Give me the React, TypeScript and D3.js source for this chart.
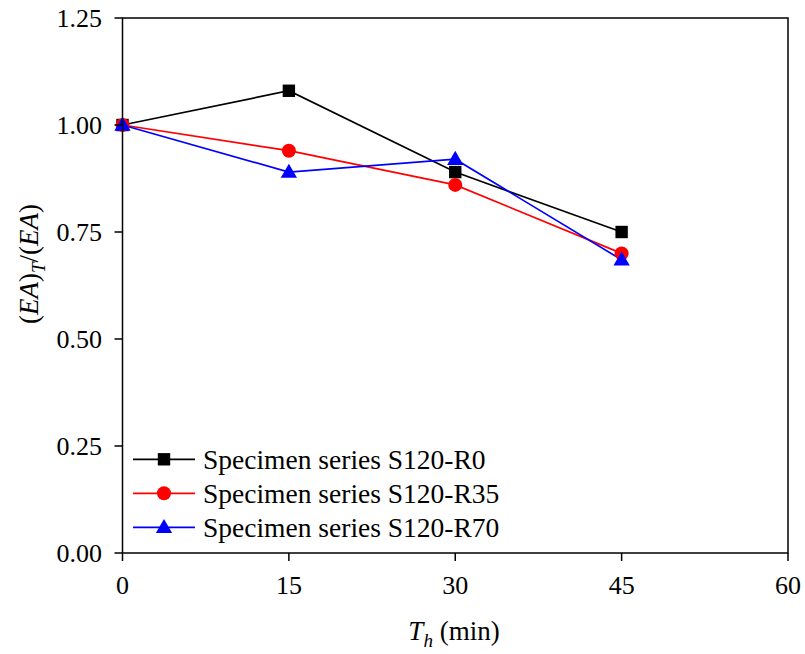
import React from "react";
import * as d3 from "d3";

const times = [0, 15, 30, 45];
const seriesNames = ["Specimen series S120-R0", "Specimen series S120-R35", "Specimen series S120-R70"];
const valuesR0 = [1.0, 1.08, 0.89, 0.75];
const valuesR35 = [1.0, 0.94, 0.86, 0.7];
const valuesR70 = [1.0, 0.89, 0.92, 0.685];
const xTicks = [0, 15, 30, 45, 60];
const yTicks = [0, 0.25, 0.5, 0.75, 1.0, 1.25];

const colors = ["#000000", "#ff0000", "#0000ff"];
const shapes = ["square", "circle", "triangle"];

const W = 805;
const H = 654;
const left = 122.5;
const right = 788;
const top = 18;
const bottom = 553;
const tickFs = 26;
const labelFs = 27;
const legendFs = 27.5;
const txt: React.CSSProperties = { fontFamily: '"Liberation Serif", monospace' };

function Marker({ shape, x, y, color }: { shape: string; x: number; y: number; color: string }) {
  if (shape === "square") return <rect x={x - 6.2} y={y - 6.2} width={12.4} height={12.4} fill={color} />;
  if (shape === "circle") return <circle cx={x} cy={y} r={7} fill={color} />;
  const p = d3.symbol(d3.symbolTriangle, 115)();
  return <path d={p || ""} transform={`translate(${x},${y + 1})`} fill={color} />;
}

export default function App() {
  const x = d3.scaleLinear().domain([0, 60]).range([left, right]);
  const y = d3.scaleLinear().domain([0, 1.25]).range([bottom, top]);
  const all = [valuesR0, valuesR35, valuesR70];
  const line = d3
    .line<number>()
    .x((_, i) => x(times[i]))
    .y((d) => y(d));

  return (
    <svg width={W} height={H} style={{ position: "absolute", left: 0, top: 0 }}>
      <rect width={W} height={H} fill="#fff" />
      {all.map((vals, s) => (
        <path key={s} d={line(vals) || ""} fill="none" stroke={colors[s]} strokeWidth={1.7} />
      ))}
      {all.map((vals, s) =>
        vals.map((v, i) => <Marker key={`${s}-${i}`} shape={shapes[s]} x={x(times[i])} y={y(v)} color={colors[s]} />)
      )}
      {/* frame */}
      <rect x={left} y={top} width={right - left} height={bottom - top} fill="none" stroke="#000" strokeWidth={1.5} />
      {yTicks.map((t) => (
        <g key={t}>
          <line x1={left - 8} x2={left} y1={y(t)} y2={y(t)} stroke="#000" strokeWidth={1.5} />
          <text x={left - 20.5} y={y(t) + 8.5} textAnchor="end" fontSize={tickFs} style={txt}>
            {t.toFixed(2)}
          </text>
        </g>
      ))}
      {xTicks.map((t) => (
        <g key={t}>
          <line x1={x(t)} x2={x(t)} y1={bottom} y2={bottom + 8} stroke="#000" strokeWidth={1.5} />
          <text x={x(t)} y={bottom + 41} textAnchor="middle" fontSize={tickFs} style={txt}>
            {t}
          </text>
        </g>
      ))}
      {/* axis titles */}
      <text x={454} y={640} textAnchor="middle" fontSize={labelFs} style={txt}>
        <tspan fontStyle="italic">T</tspan>
        <tspan fontStyle="italic" fontSize={19} dy={7}>h</tspan>
        <tspan dy={-7}> (min)</tspan>
      </text>
      <text transform={`translate(38,264) rotate(-90)`} textAnchor="middle" fontSize={labelFs} style={txt}>
        <tspan>(</tspan>
        <tspan fontStyle="italic">EA</tspan>
        <tspan>)</tspan>
        <tspan fontStyle="italic" fontSize={19} dy={7}>T</tspan>
        <tspan dy={-7}>/(</tspan>
        <tspan fontStyle="italic">EA</tspan>
        <tspan>)</tspan>
      </text>
      {/* legend */}
      {seriesNames.map((name, s) => {
        const ly = 459.3 + s * 34;
        return (
          <g key={name}>
            <line x1={133} x2={195} y1={ly} y2={ly} stroke={colors[s]} strokeWidth={1.7} />
            <Marker shape={shapes[s]} x={164} y={ly} color={colors[s]} />
            <text x={203} y={ly + 9.5} fontSize={legendFs} style={txt}>
              {name}
            </text>
          </g>
        );
      })}
    </svg>
  );
}
